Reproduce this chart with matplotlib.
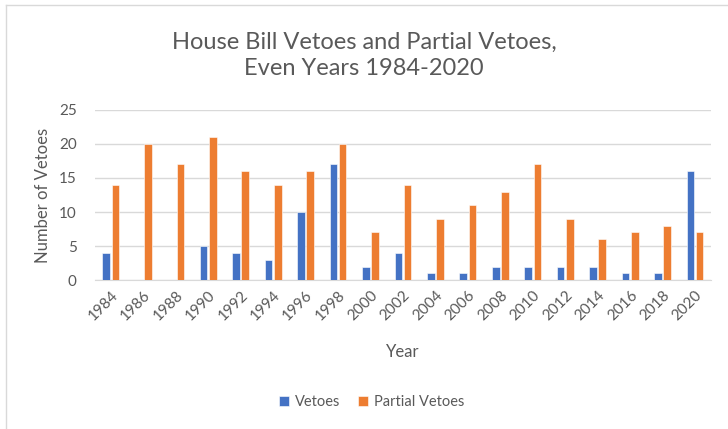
import matplotlib.pyplot as plt
import numpy as np

years = ['1984', '1986', '1988', '1990', '1992', '1994', '1996', '1998', '2000', '2002',
         '2004', '2006', '2008', '2010', '2012', '2014', '2016', '2018', '2020']
vetoes = [4, 0, 0, 5, 4, 3, 10, 17, 2, 4, 1, 1, 2, 2, 2, 2, 1, 1, 16]
partial_vetoes = [14, 20, 17, 21, 16, 14, 16, 20, 7, 14, 9, 11, 13, 17, 9, 6, 7, 8, 7]

plt.rcParams['font.family'] = ['Lato', 'DejaVu Sans']
txt = '#595959'

fig = plt.figure(figsize=(7.28, 4.29), dpi=100)
ax = fig.add_axes([0.130, 0.347, 0.847, 0.397])

x = np.arange(len(years))
w = 0.235
off = 0.142
ax.bar(x - off, vetoes, w, color='#4472c4', edgecolor='white', linewidth=0.4, label='Vetoes', zorder=3)
ax.bar(x + off, partial_vetoes, w, color='#ed7d31', edgecolor='white', linewidth=0.4, label='Partial Vetoes', zorder=3)

ax.set_xlim(-0.5, len(years) - 0.5)
ax.set_ylim(0, 25)
ax.set_yticks(range(0, 26, 5))
ax.yaxis.grid(True, color='#d9d9d9', linewidth=1, zorder=0)
ax.set_xticks(x)
ax.set_xticklabels(years, rotation=45, ha='right', rotation_mode='anchor')
ax.tick_params(axis='both', length=0, colors=txt, labelsize=11)
ax.tick_params(axis='y', pad=13)
ax.tick_params(axis='x', pad=6)
for s in ['top', 'right', 'left']:
    ax.spines[s].set_visible(False)
ax.spines['bottom'].set_color('#d9d9d9')

ax.set_ylabel('Number of Vetoes', color=txt, fontsize=12)
ax.yaxis.set_label_coords(-0.071, 0.5)
fig.text(0.553, 0.18, 'Year', color=txt, fontsize=12, ha='center', va='center')
fig.text(0.5, 0.87, 'House Bill Vetoes and Partial Vetoes,\nEven Years 1984-2020',
         color=txt, fontsize=17, ha='center', va='center', linespacing=1.3)

fig.legend(loc='center', bbox_to_anchor=(0.51, 0.063), ncol=2, frameon=False,
           fontsize=10.5, labelcolor=txt, handlelength=0.7, handleheight=0.7,
           columnspacing=1.2, handletextpad=0.4)

# chart frame: only top and left edges fall inside the picture
fig.add_artist(plt.Line2D([0.008, 1.0], [0.988, 0.988], transform=fig.transFigure,
                          color='#d9d9d9', linewidth=1))
fig.add_artist(plt.Line2D([0.008, 0.008], [0.0, 0.988], transform=fig.transFigure,
                          color='#d9d9d9', linewidth=1))

fig.savefig('out.png', dpi=100)
